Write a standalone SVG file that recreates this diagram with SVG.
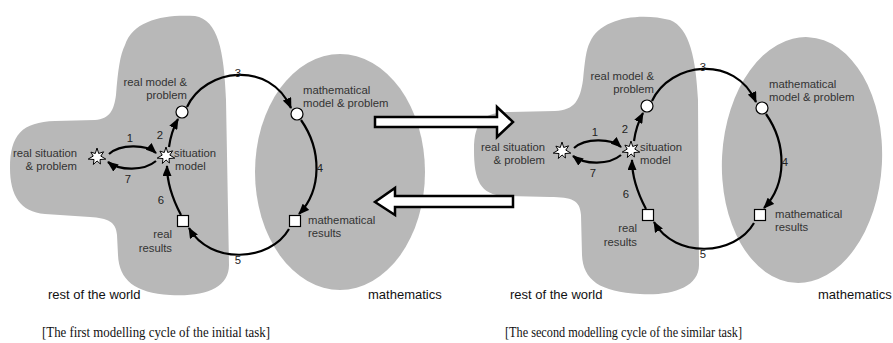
<svg xmlns="http://www.w3.org/2000/svg" width="893" height="343" viewBox="0 0 893 343">
<style>
.region{fill:#b8b8b8;stroke:none}
.lbl{font-family:"Liberation Sans",Arial,sans-serif;font-size:11.3px;fill:#333}
.num{font-family:"Liberation Sans",Arial,sans-serif;font-size:11.3px;fill:#222;text-anchor:middle}
.area{font-family:"Liberation Sans",Arial,sans-serif;font-size:13px;fill:#111}
.cap{font-family:"Liberation Serif","Times New Roman",serif;font-size:14.5px;fill:#111}
.conn{fill:none;stroke:#000;stroke-width:2.2;marker-end:url(#ah)}
.node{fill:#fff;stroke:#000;stroke-width:1.2}
.block{fill:#fff;stroke:#000;stroke-width:2.5;stroke-linejoin:miter}
</style>
<defs>
<marker id="ah" markerUnits="userSpaceOnUse" markerWidth="11" markerHeight="9" refX="10" refY="4.5" orient="auto">
<path d="M0,0 L11,4.5 L0,9 Z" fill="#000"/>
</marker>
<path id="star" d="M0,-9 L1.7,-3.5 L6.6,-5.2 L3.8,-0.9 L8.8,2.1 L3,2.5 L3.4,7 L0,3.9 L-3.6,7.5 L-3,2.5 L-8.8,2.1 L-3.8,-0.9 L-6.1,-4.9 L-1.7,-3.5 Z" fill="#fff" stroke="#000" stroke-width="1"/>
</defs>

<!-- background regions -->
<g id="regions">
<path class="region" d="M125,45 C133,20 165,14 195,16 C218,20 224,50 226,100 L229,265 C229,288 205,297 170,295 C135,293 119,280 118,255 L117,235 C116,222 108,218 90,217 L45,214 C20,212 10,195 10,168 C10,135 22,122 55,121 L95,120 C110,119 114,110 116,95 C118,70 120,55 125,45 Z"/>
<ellipse class="region" cx="340" cy="172" rx="85" ry="118"/>
<path class="region" d="M590,42 C600,18 640,12 670,20 C690,28 696,60 698,100 L699,265 C699,288 670,296 640,294 C600,292 583,280 582,255 L581,215 C580,200 572,197 550,197 L505,196 C480,195 474,180 474,150 C474,120 485,112 510,112 L555,111 C575,110 580,100 583,80 C585,60 586,50 590,42 Z"/>
<ellipse class="region" cx="802" cy="160" rx="80" ry="123" transform="rotate(3 802 160)"/>
</g>

<!-- connectors -->
<g id="connectors">
<path class="conn" d="M109,154 C120,144 146,144 156,153"/>
<path class="conn" d="M156,161 C144,171 120,171 108,162"/>
<path class="conn" d="M169,147 Q171,132 178,119"/>
<path class="conn" d="M187,107 C205,68 270,60 291,108"/>
<path class="conn" d="M301,120 C322,150 322,190 299,214"/>
<path class="conn" d="M289,229 C270,262 210,265 189,228"/>
<path class="conn" d="M181,215 C172,198 167,182 167,166"/>
<g transform="translate(465,-6)">
<path class="conn" d="M109,154 C120,144 146,144 156,153"/>
<path class="conn" d="M156,161 C144,171 120,171 108,162"/>
<path class="conn" d="M169,147 Q171,132 178,119"/>
<path class="conn" d="M187,107 C205,68 270,60 291,108"/>
<path class="conn" d="M301,120 C322,150 322,190 299,214"/>
<path class="conn" d="M289,229 C270,262 210,265 189,228"/>
<path class="conn" d="M181,215 C172,198 167,182 167,166"/>
</g>
</g>

<!-- panel 1 nodes -->
<g id="p1-real-situation"><use href="#star" x="97" y="157"/><text class="lbl" text-anchor="end" x="77" y="157">real situation</text><text class="lbl" text-anchor="end" x="77" y="170">&amp; problem</text></g>
<g id="p1-situation-model"><use href="#star" x="166" y="156"/><text class="lbl" x="174" y="157">situation</text><text class="lbl" x="175" y="170">model</text></g>
<g id="p1-real-model"><circle class="node" cx="182" cy="112" r="6"/><text class="lbl" text-anchor="end" x="187" y="86">real model &amp;</text><text class="lbl" text-anchor="end" x="187" y="99">problem</text></g>
<g id="p1-math-model"><circle class="node" cx="297" cy="114" r="6"/><text class="lbl" x="303" y="94">mathematical</text><text class="lbl" x="303" y="107">model &amp; problem</text></g>
<g id="p1-math-results"><rect class="node" x="289.5" y="215.5" width="11" height="11"/><text class="lbl" x="308" y="224">mathematical</text><text class="lbl" x="308" y="237">results</text></g>
<g id="p1-real-results"><rect class="node" x="177.5" y="215.5" width="11" height="11"/><text class="lbl" text-anchor="end" x="172" y="238">real</text><text class="lbl" text-anchor="end" x="172" y="252">results</text></g>
<g id="p1-numbers">
<text class="num" x="130" y="142">1</text><text class="num" x="160" y="139">2</text><text class="num" x="238" y="77">3</text><text class="num" x="320" y="172">4</text><text class="num" x="238" y="264">5</text><text class="num" x="161" y="204">6</text><text class="num" x="128" y="183">7</text>
</g>

<!-- panel 2 nodes -->
<g transform="translate(465,-6)">
<g id="p2-real-situation"><use href="#star" x="97" y="157"/><text class="lbl" text-anchor="end" x="80" y="157">real situation</text><text class="lbl" text-anchor="end" x="80" y="170">&amp; problem</text></g>
<g id="p2-situation-model"><use href="#star" x="166" y="156"/><text class="lbl" x="175" y="157">situation</text><text class="lbl" x="175" y="170">model</text></g>
<g id="p2-real-model"><circle class="node" cx="182" cy="112" r="6"/><text class="lbl" text-anchor="end" x="189" y="86">real model &amp;</text><text class="lbl" text-anchor="end" x="189" y="99">problem</text></g>
<g id="p2-math-model"><circle class="node" cx="297" cy="114" r="6"/><text class="lbl" x="304" y="94">mathematical</text><text class="lbl" x="304" y="107">model &amp; problem</text></g>
<g id="p2-math-results"><rect class="node" x="289.5" y="215.5" width="11" height="11"/><text class="lbl" x="310" y="224">mathematical</text><text class="lbl" x="310" y="237">results</text></g>
<g id="p2-real-results"><rect class="node" x="177.5" y="215.5" width="11" height="11"/><text class="lbl" text-anchor="end" x="172" y="238">real</text><text class="lbl" text-anchor="end" x="172" y="252">results</text></g>
<g id="p2-numbers">
<text class="num" x="130" y="142">1</text><text class="num" x="160" y="139">2</text><text class="num" x="238" y="77">3</text><text class="num" x="320" y="172">4</text><text class="num" x="238" y="264">5</text><text class="num" x="161" y="204">6</text><text class="num" x="128" y="183">7</text>
</g>
</g>

<!-- block arrows between panels -->
<g id="transfer-arrows">
<polygon class="block" points="375,117 497,117 497,107 513,122 497,137 497,127 375,127"/>
<polygon class="block" points="513,196 395,196 395,188 375,202 395,215 395,207 513,207"/>
</g>

<!-- region labels -->
<g id="region-labels">
<text class="area" x="48" y="299">rest of the world</text>
<text class="area" x="368" y="299">mathematics</text>
<text class="area" x="510" y="299">rest of the world</text>
<text class="area" x="818" y="299">mathematics</text>
</g>

<!-- captions -->
<g id="captions">
<text class="cap" x="42" y="337" textLength="228" lengthAdjust="spacingAndGlyphs">[The first modelling cycle of the initial task]</text>
<text class="cap" x="505" y="337" textLength="237" lengthAdjust="spacingAndGlyphs">[The second modelling cycle of the similar task]</text>
</g>
</svg>
